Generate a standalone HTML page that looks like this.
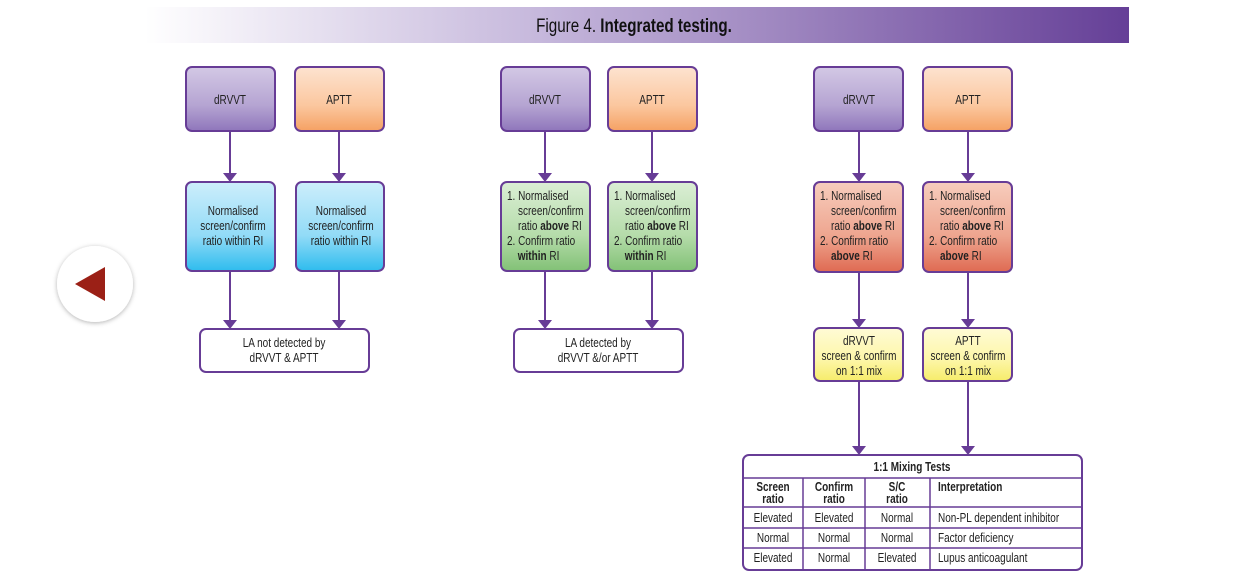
<!DOCTYPE html>
<html><head><meta charset="utf-8"><style>
html,body{margin:0;padding:0;background:#fff;width:1259px;height:586px;overflow:hidden}
svg text{font-family:"Liberation Sans",sans-serif;font-size:12.5px;fill:#222;transform-box:fill-box;transform:scaleX(0.8)}
svg .m text{transform-origin:center}
svg .s text{transform-origin:left}
.b{font-weight:bold}
</style></head><body>
<svg width="1259" height="586" viewBox="0 0 1259 586" xmlns="http://www.w3.org/2000/svg">
<defs>
<linearGradient id="tg" x1="0" x2="1" y1="0" y2="0"><stop offset="0" stop-color="#fff"/><stop offset="0.4" stop-color="#c6b8dc"/><stop offset="1" stop-color="#653f97"/></linearGradient>
<linearGradient id="pu" x1="0" x2="0" y1="0" y2="1"><stop offset="0" stop-color="#d3c8e5"/><stop offset="0.6" stop-color="#b5a4d2"/><stop offset="1" stop-color="#8f76bb"/></linearGradient>
<linearGradient id="or" x1="0" x2="0" y1="0" y2="1"><stop offset="0" stop-color="#fde3d0"/><stop offset="0.6" stop-color="#fbc79f"/><stop offset="1" stop-color="#f5a163"/></linearGradient>
<linearGradient id="bl" x1="0" x2="0" y1="0" y2="1"><stop offset="0" stop-color="#cdeefb"/><stop offset="0.6" stop-color="#92dbf7"/><stop offset="1" stop-color="#2ebcee"/></linearGradient>
<linearGradient id="gr" x1="0" x2="0" y1="0" y2="1"><stop offset="0" stop-color="#dbeed5"/><stop offset="0.6" stop-color="#b5dcaa"/><stop offset="1" stop-color="#82c176"/></linearGradient>
<linearGradient id="rd" x1="0" x2="0" y1="0" y2="1"><stop offset="0" stop-color="#f7cdbd"/><stop offset="0.6" stop-color="#eea58f"/><stop offset="1" stop-color="#df6a52"/></linearGradient>
<linearGradient id="ye" x1="0" x2="0" y1="0" y2="1"><stop offset="0" stop-color="#fffbd6"/><stop offset="0.6" stop-color="#fdf6a8"/><stop offset="1" stop-color="#f6ec6a"/></linearGradient>
<filter id="sh" x="-30%" y="-30%" width="160%" height="160%"><feDropShadow dx="0" dy="1" stdDeviation="2.5" flood-color="#000" flood-opacity="0.3"/></filter>
</defs>
<rect x="145" y="7" width="984" height="36" fill="url(#tg)"/>
<g class="m"><text x="634" y="32" text-anchor="middle" style="font-size:19px;fill:#111">Figure 4. <tspan class="b">Integrated testing.</tspan></text></g>

<circle cx="95" cy="284" r="38" fill="#fff" filter="url(#sh)"/>
<polygon points="75,284 105,267 105,301" fill="#9b2016"/>

<g stroke="#673c96" stroke-width="2" fill="none">
<line x1="230" y1="131" x2="230" y2="175"/><line x1="339" y1="131" x2="339" y2="175"/>
<line x1="230" y1="271" x2="230" y2="322"/><line x1="339" y1="271" x2="339" y2="322"/>
<line x1="545" y1="131" x2="545" y2="175"/><line x1="652" y1="131" x2="652" y2="175"/>
<line x1="545" y1="271" x2="545" y2="322"/><line x1="652" y1="271" x2="652" y2="322"/>
<line x1="859" y1="131" x2="859" y2="175"/><line x1="968" y1="131" x2="968" y2="175"/>
<line x1="859" y1="272" x2="859" y2="321"/><line x1="968" y1="272" x2="968" y2="321"/>
<line x1="859" y1="381" x2="859" y2="448"/><line x1="968" y1="381" x2="968" y2="448"/>
</g>
<g fill="#673c96">
<polygon points="223,173 237,173 230,182"/><polygon points="332,173 346,173 339,182"/>
<polygon points="223,320 237,320 230,329"/><polygon points="332,320 346,320 339,329"/>
<polygon points="538,173 552,173 545,182"/><polygon points="645,173 659,173 652,182"/>
<polygon points="538,320 552,320 545,329"/><polygon points="645,320 659,320 652,329"/>
<polygon points="852,173 866,173 859,182"/><polygon points="961,173 975,173 968,182"/>
<polygon points="852,319 866,319 859,328"/><polygon points="961,319 975,319 968,328"/>
<polygon points="852,446 866,446 859,455"/><polygon points="961,446 975,446 968,455"/>
</g>
<g stroke="#673c96" stroke-width="2">
<rect x="186" y="67" width="89" height="64" rx="6" fill="url(#pu)"/>
<rect x="295" y="67" width="89" height="64" rx="6" fill="url(#or)"/>
<rect x="186" y="182" width="89" height="89" rx="6" fill="url(#bl)"/>
<rect x="296" y="182" width="88" height="89" rx="6" fill="url(#bl)"/>
<rect x="200" y="329" width="169" height="43" rx="6" fill="#fff"/>
<rect x="501" y="67" width="89" height="64" rx="6" fill="url(#pu)"/>
<rect x="608" y="67" width="89" height="64" rx="6" fill="url(#or)"/>
<rect x="501" y="182" width="89" height="89" rx="6" fill="url(#gr)"/>
<rect x="608" y="182" width="89" height="89" rx="6" fill="url(#gr)"/>
<rect x="514" y="329" width="169" height="43" rx="6" fill="#fff"/>
<rect x="814" y="67" width="89" height="64" rx="6" fill="url(#pu)"/>
<rect x="923" y="67" width="89" height="64" rx="6" fill="url(#or)"/>
<rect x="814" y="182" width="89" height="90" rx="6" fill="url(#rd)"/>
<rect x="923" y="182" width="89" height="90" rx="6" fill="url(#rd)"/>
<rect x="814" y="328" width="89" height="53" rx="6" fill="url(#ye)"/>
<rect x="923" y="328" width="89" height="53" rx="6" fill="url(#ye)"/>
<rect x="743" y="455" width="339" height="115" rx="6" fill="#fff"/>
</g>
<g stroke="#673c96" stroke-width="1.5">
<line x1="743" y1="478" x2="1082" y2="478"/>
<line x1="743" y1="507" x2="1082" y2="507"/>
<line x1="743" y1="528" x2="1082" y2="528"/>
<line x1="743" y1="548" x2="1082" y2="548"/>
<line x1="803" y1="478" x2="803" y2="570"/>
<line x1="865" y1="478" x2="865" y2="570"/>
<line x1="930" y1="478" x2="930" y2="570"/>
</g>
<g text-anchor="middle" class="m">
<text x="230" y="104">dRVVT</text><text x="339" y="104">APTT</text>
<text x="545" y="104">dRVVT</text><text x="652" y="104">APTT</text>
<text x="859" y="104">dRVVT</text><text x="968" y="104">APTT</text>
<text x="233" y="215">Normalised</text><text x="233" y="230">screen/confirm</text><text x="233" y="245">ratio within RI</text>
<text x="341" y="215">Normalised</text><text x="341" y="230">screen/confirm</text><text x="341" y="245">ratio within RI</text>
<text x="284" y="347">LA not detected by</text><text x="284" y="362">dRVVT &amp; APTT</text>
<text x="598" y="347">LA detected by</text><text x="598" y="362">dRVVT &amp;/or APTT</text>
<text x="859" y="345">dRVVT</text><text x="859" y="360">screen &amp; confirm</text><text x="859" y="375">on 1:1 mix</text>
<text x="968" y="345">APTT</text><text x="968" y="360">screen &amp; confirm</text><text x="968" y="375">on 1:1 mix</text>
<text x="912" y="471" class="b">1:1 Mixing Tests</text>
<text x="773" y="491" class="b">Screen</text><text x="773" y="503" class="b">ratio</text>
<text x="834" y="491" class="b">Confirm</text><text x="834" y="503" class="b">ratio</text>
<text x="897" y="491" class="b">S/C</text><text x="897" y="503" class="b">ratio</text>
<text x="773" y="522">Elevated</text><text x="834" y="522">Elevated</text><text x="897" y="522">Normal</text>
<text x="773" y="542">Normal</text><text x="834" y="542">Normal</text><text x="897" y="542">Normal</text>
<text x="773" y="562">Elevated</text><text x="834" y="562">Normal</text><text x="897" y="562">Elevated</text>
</g>
<g class="s">
<text x="938" y="491" class="b">Interpretation</text>
<text x="938" y="522">Non-PL dependent inhibitor</text>
<text x="938" y="542">Factor deficiency</text>
<text x="938" y="562">Lupus anticoagulant</text>
<text x="507" y="200">1. Normalised</text><text x="518" y="215">screen/confirm</text><text x="518" y="230">ratio <tspan class="b">above</tspan> RI</text><text x="507" y="245">2. Confirm ratio</text><text x="518" y="260"><tspan class="b">within</tspan> RI</text>
<text x="614" y="200">1. Normalised</text><text x="625" y="215">screen/confirm</text><text x="625" y="230">ratio <tspan class="b">above</tspan> RI</text><text x="614" y="245">2. Confirm ratio</text><text x="625" y="260"><tspan class="b">within</tspan> RI</text>
<text x="820" y="200">1. Normalised</text><text x="831" y="215">screen/confirm</text><text x="831" y="230">ratio <tspan class="b">above</tspan> RI</text><text x="820" y="245">2. Confirm ratio</text><text x="831" y="260"><tspan class="b">above</tspan> RI</text>
<text x="929" y="200">1. Normalised</text><text x="940" y="215">screen/confirm</text><text x="940" y="230">ratio <tspan class="b">above</tspan> RI</text><text x="929" y="245">2. Confirm ratio</text><text x="940" y="260"><tspan class="b">above</tspan> RI</text>
</g>
</svg>
</body></html>
